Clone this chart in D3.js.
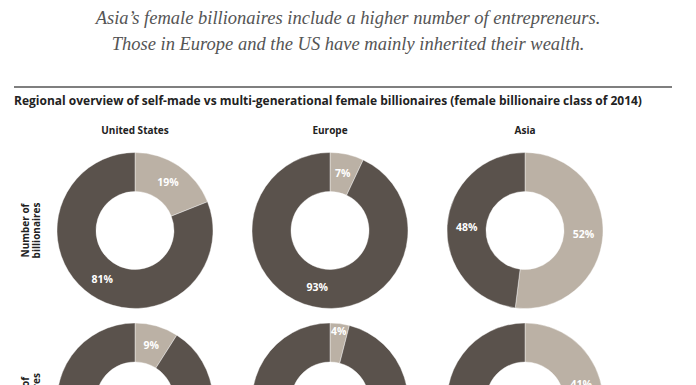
<!DOCTYPE html>
<html>
<head>
<meta charset="utf-8">
<script src="https://cdn.jsdelivr.net/npm/d3@7"></script>
<style>
  body { margin: 0; background: #fff; }
  svg text { font-family: "Open Sans", sans-serif; }
</style>
</head>
<body>
<div id="chart"></div>
<script>
const width = 696;
const height = 385;

// data
const regions = ["United States", "Europe", "Asia"];
const rowLabels = [["Number of", "billionaires"], ["Wealth of", "billionaires"]];
// share self-made (%) per row, per region
const selfMade = [
  [19, 7, 52],
  [9, 4, 41]
];
const inherited = [
  [81, 93, 48],
  [91, 96, 59]
];

const titleLines = [
  "Asia\u2019s female billionaires include a higher number of entrepreneurs.",
  "Those in Europe and the US have mainly inherited their wealth."
];
const subtitle = "Regional overview of self-made vs multi-generational female billionaires (female billionaire class of 2014)";

const colLight = "#bbb1a5";
const colDark = "#5a524c";

const svg = d3.select("#chart")
  .append("svg")
  .attr("width", width)
  .attr("height", height);

// headline
svg.selectAll("text.headline")
  .data(titleLines)
  .join("text")
  .attr("class", "headline")
  .attr("x", 348)
  .attr("y", (d, i) => 24 + i * 26)
  .attr("text-anchor", "middle")
  .style("font-family", "'Liberation Serif', serif")
  .style("font-style", "italic")
  .style("font-size", "18.5px")
  .attr("fill", "#555")
  .text(d => d);

svg.append("line")
  .attr("x1", 14).attr("x2", 672)
  .attr("y1", 87).attr("y2", 87)
  .attr("stroke", "#555")
  .attr("stroke-width", 1.3);

svg.append("text")
  .attr("x", 14)
  .attr("y", 105)
  .style("font-size", "12px")
  .style("font-weight", "bold")
  .attr("fill", "#222")
  .text(subtitle);

// layout
const x = d3.scalePoint().domain(regions).range([135, 525]);
const y = d3.scalePoint().domain([0, 1]).range([230.5, 401]);
const outerR = 78;
const innerR = 39;

svg.selectAll("text.region")
  .data(regions)
  .join("text")
  .attr("class", "region")
  .attr("x", d => x(d))
  .attr("y", 134)
  .attr("text-anchor", "middle")
  .style("font-size", "10px")
  .style("font-weight", "bold")
  .attr("fill", "#222")
  .text(d => d);

// row labels
rowLabels.forEach((lines, r) => {
  const g = svg.append("g")
    .attr("transform", `translate(29,${y(r)}) rotate(-90)`);
  lines.forEach((t, i) => {
    g.append("text")
      .attr("x", 0)
      .attr("y", i * 11)
      .attr("text-anchor", "middle")
      .style("font-size", "10px")
      .style("font-weight", "bold")
      .attr("fill", "#222")
      .text(t);
  });
});

const pie = d3.pie().sort(null).value(d => d.value);
const arc = d3.arc().innerRadius(innerR).outerRadius(outerR);
const arcOut = d3.arc().innerRadius(62).outerRadius(78);

selfMade.forEach((row, r) => {
  row.forEach((v, c) => {
    const slices = [
      { key: "self", value: v },
      { key: "inherited", value: inherited[r][c] }
    ];
    const g = svg.append("g")
      .attr("transform", `translate(${x(regions[c])},${y(r)})`);

    const arcs = pie(slices);

    g.selectAll("path")
      .data(arcs)
      .join("path")
      .attr("d", arc)
      .attr("fill", d => d.data.key === "self" ? colLight : colDark)
      .attr("stroke", "#fff")
      .attr("stroke-width", 0.4);

    g.selectAll("text")
      .data(arcs)
      .join("text")
      .attr("transform", d => {
        const p = d.data.value < 5 ? arcOut.centroid(d) : arc.centroid(d);
        return `translate(${p})`;
      })
      .attr("text-anchor", "middle")
      .attr("dy", "0.35em")
      .style("font-size", "10.5px")
      .style("font-weight", "bold")
      .attr("fill", "#fff")
      .text(d => d.data.value + "%");
  });
});
</script>
</body>
</html>
